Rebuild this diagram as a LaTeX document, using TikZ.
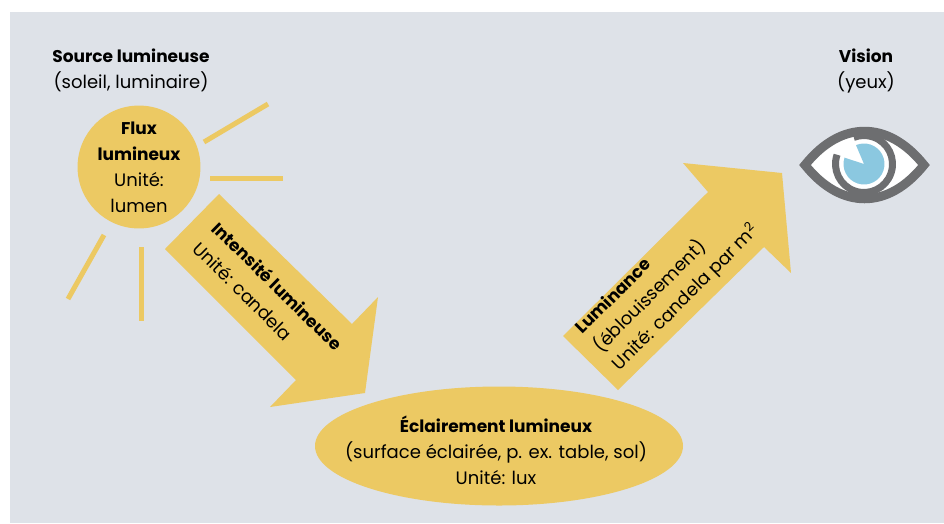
\documentclass[tikz,border=0pt]{standalone}
\usepackage{fontspec}
\setmainfont{Poppins}
\usetikzlibrary{shapes.geometric}
\usetikzlibrary{positioning}
\definecolor{bggrey}{RGB}{222,226,232}
\definecolor{sunyellow}{RGB}{236,201,99}
\definecolor{eyegrey}{RGB}{109,110,112}
\definecolor{irisblue}{RGB}{139,200,224}
\tikzset{
    sun/.style = {circle, fill=sunyellow, minimum size=121pt, inner sep=0pt, align=center},
    surface/.style = {ellipse, fill=sunyellow, minimum width=368pt, minimum height=119pt, inner sep=0pt},
    ray/.style = {draw=sunyellow, line width=5pt},
    beam/.style = {fill=sunyellow, draw=none},
    title/.style = {align=center},
    beamtext/.style = {align=left},
    eyeline/.style = {draw=eyegrey, line width=9pt, line join=miter},
    ringline/.style = {draw=eyegrey, line width=7pt}
}
\newcommand{\Bf}[1]{{\fontsize{17}{26}\selectfont\bfseries #1}}

\begin{document}
\begin{tikzpicture}[x=1pt, y=-1pt, font=\fontsize{18}{26}\selectfont]
\useasboundingbox (0,0) rectangle (944,523);
\fill[bggrey] (10,12) rectangle (944,523);
%
\node[title] at (131,70) (source) {\Bf{Source lumineuse}\\(soleil, luminaire)};
\node[sun] at (139,167) (flux) {\Bf{Flux}\\\Bf{lumineux}\\Unité:\\lumen};
\draw[ray] (204,142) -- (268,104);
\draw[ray] (210,178) -- (283,178);
\draw[ray] (104,235) -- (68,299);
\draw[ray] (141,247) -- (141,321);
%
\fill[beam] (219,194) -- (352,324) -- (378,297) -- (365,393) -- (270,407) -- (296,380) -- (165,249) -- cycle;
\node[beamtext, rotate=-44.5, font=\fontsize{18}{28}\selectfont] at (268,296) (intensity) {\Bf{Intensité lumineuse}\\Unité: candela};
%
\node[surface] at (499,446) (illum) {};
\node[title] at (496,450) (illumtext) {\Bf{Éclairement lumineux}\\(surface éclairée, p. ex. table, sol)\\Unité: lux};
%
\fill[beam] (618,390) -- (563,336) -- (708,192) -- (683,163) -- (782,173) -- (791,273) -- (764,247) -- cycle;
\node[beamtext, rotate=45, font=\fontsize{18}{26}\selectfont] at (668,280) (luminance) {\Bf{Luminance}\\(éblouissement)\\Unité: candela par m\textsuperscript{2}};
%
\node[title] at (866,71) (vision) {\Bf{Vision}\\(yeux)};
\coordinate (iris) at (864,164);
\filldraw[eyeline, fill=white] (805,165) .. controls (841,120) and (888,120) .. (924,165) .. controls (888,210) and (841,210) .. (805,165) -- cycle;
\draw[ringline] (iris) ++(-161:28.5) arc[start angle=-161, end angle=-471, radius=28.5];
\fill[irisblue] (iris) -- ++(-162:20.5) arc[start angle=-162, end angle=-473, radius=20.5] -- cycle;
\end{tikzpicture}
\end{document}
